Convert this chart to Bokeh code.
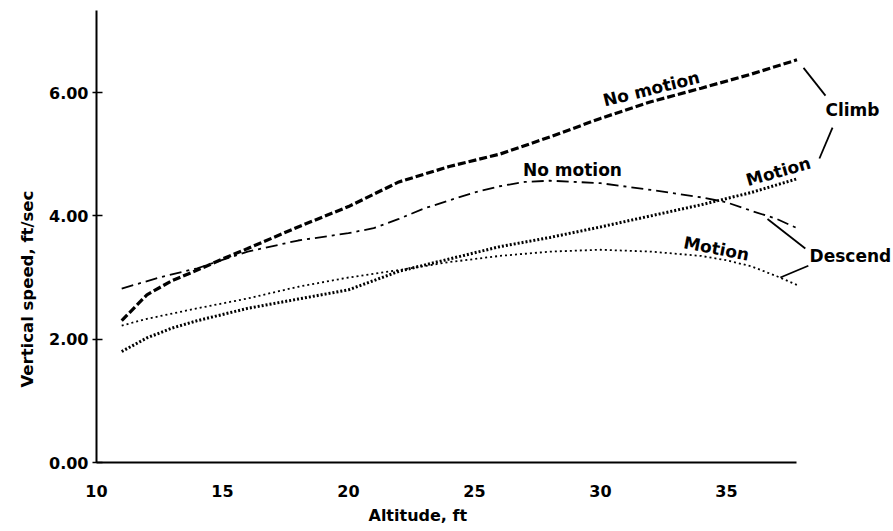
from bokeh.plotting import figure
from bokeh.models import Range1d, FixedTicker, PrintfTickFormatter, Label, Title
from bokeh.embed import file_html
from bokeh.resources import INLINE

# Climb, no motion (heavy dashed)
climb_nm_x = [11, 12, 13, 14, 15, 16, 18, 20, 22, 24, 26, 28, 30, 32, 34, 36, 37.8]
climb_nm_y = [2.3, 2.72, 2.95, 3.12, 3.3, 3.47, 3.82, 4.15, 4.55, 4.8, 5.0, 5.28, 5.58, 5.85, 6.07, 6.3, 6.53]

# Descend, no motion (long dash-dot)
desc_nm_x = [11, 12.5, 14, 16, 18, 20, 21, 22, 23, 24, 25, 26, 27, 28, 30, 32, 34, 35, 36, 37, 37.8]
desc_nm_y = [2.82, 3.0, 3.15, 3.42, 3.6, 3.72, 3.8, 3.95, 4.12, 4.25, 4.38, 4.48, 4.55, 4.57, 4.53, 4.42, 4.3, 4.22, 4.08, 3.95, 3.8]

# Climb, motion (heavy dotted)
climb_m_x = [11, 12, 13, 14, 15, 16, 18, 20, 22, 24, 26, 28, 30, 32, 34, 36, 37.8]
climb_m_y = [1.8, 2.02, 2.18, 2.3, 2.4, 2.5, 2.65, 2.8, 3.1, 3.3, 3.5, 3.65, 3.82, 4.0, 4.18, 4.38, 4.6]

# Descend, motion (fine dotted)
desc_m_x = [11, 12, 14, 16, 18, 20, 22, 24, 26, 28, 30, 32, 34, 35, 36, 37, 37.8]
desc_m_y = [2.22, 2.33, 2.5, 2.66, 2.85, 3.0, 3.12, 3.25, 3.35, 3.42, 3.45, 3.42, 3.35, 3.28, 3.18, 3.02, 2.88]

x_ticks = [10, 15, 20, 25, 30, 35]
y_ticks = [0, 2, 4, 6]

FONT = "DejaVu Sans"

p = figure(width=893, height=531, output_backend="svg", toolbar_location=None,
           x_range=Range1d(10, 41.63), y_range=Range1d(0, 7.33),
           min_border_left=96, min_border_right=0, min_border_top=10, min_border_bottom=69)
p.outline_line_color = None
p.grid.grid_line_color = None
p.background_fill_color = "white"
p.border_fill_color = "white"

# axes
p.xaxis.bounds = (10, 37.8)
p.yaxis.bounds = (0, 7.33)
for ax in (p.xaxis[0], p.yaxis[0]):
    ax.axis_line_width = 2
    ax.axis_line_color = "black"
    ax.major_label_text_font = FONT
    ax.major_label_text_font_style = "bold"
    ax.major_label_text_font_size = "16px"
    ax.major_label_text_color = "black"
    ax.minor_tick_line_color = None
p.xaxis.ticker = FixedTicker(ticks=x_ticks)
p.xaxis.major_tick_out = 0
p.xaxis.major_tick_in = 0
p.xaxis.major_label_standoff = 22
p.yaxis.ticker = FixedTicker(ticks=y_ticks)
p.yaxis.formatter = PrintfTickFormatter(format="%.2f")
p.yaxis.major_tick_out = 4
p.yaxis.major_tick_in = 6
p.yaxis.major_tick_line_width = 1.5
p.yaxis.major_label_standoff = 4

p.add_layout(Title(text="Vertical speed, ft/sec", align="left", offset=75,
                   text_font=FONT, text_font_style="bold", text_font_size="16.5px",
                   text_color="black", standoff=20), "left")
p.add_layout(Title(text="Altitude, ft", align="left", offset=272,
                   text_font=FONT, text_font_style="bold", text_font_size="16px",
                   text_color="black", standoff=9), "below")

# curves
p.line(climb_nm_x, climb_nm_y, line_color="black", line_width=3.2, line_dash="8 3")
p.line(desc_nm_x, desc_nm_y, line_color="black", line_width=1.8, line_dash="12 5 3 5")
p.line(climb_m_x, climb_m_y, line_color="black", line_width=3, line_dash="2 2")
p.line(desc_m_x, desc_m_y, line_color="black", line_width=1.8, line_dash="2 3")

# bracket lines
p.segment(x0=[38.06, 39.21, 36.63, 38.25], y0=[6.40, 5.43, 3.95, 3.19],
          x1=[38.93, 38.69, 38.13, 37.14], y1=[5.95, 4.93, 3.47, 3.00],
          line_color="black", line_width=1.8)

# annotations
ann = [
    ("No motion", 32.02, 6.06, 14),
    ("Climb", 40.0, 5.72, 0),
    ("Motion", 37.06, 4.72, 16),
    ("No motion", 28.89, 4.75, 0),
    ("Descend", 39.92, 3.35, 0),
    ("Motion", 34.6, 3.47, -11),
]
for t, x, y, a in ann:
    p.add_layout(Label(x=x, y=y, text=t, angle=a, angle_units="deg",
                       text_align="center", text_baseline="middle",
                       text_font=FONT, text_font_style="bold",
                       text_font_size="17px", text_color="black"))

open("out.html", "w").write(file_html(p, INLINE))
